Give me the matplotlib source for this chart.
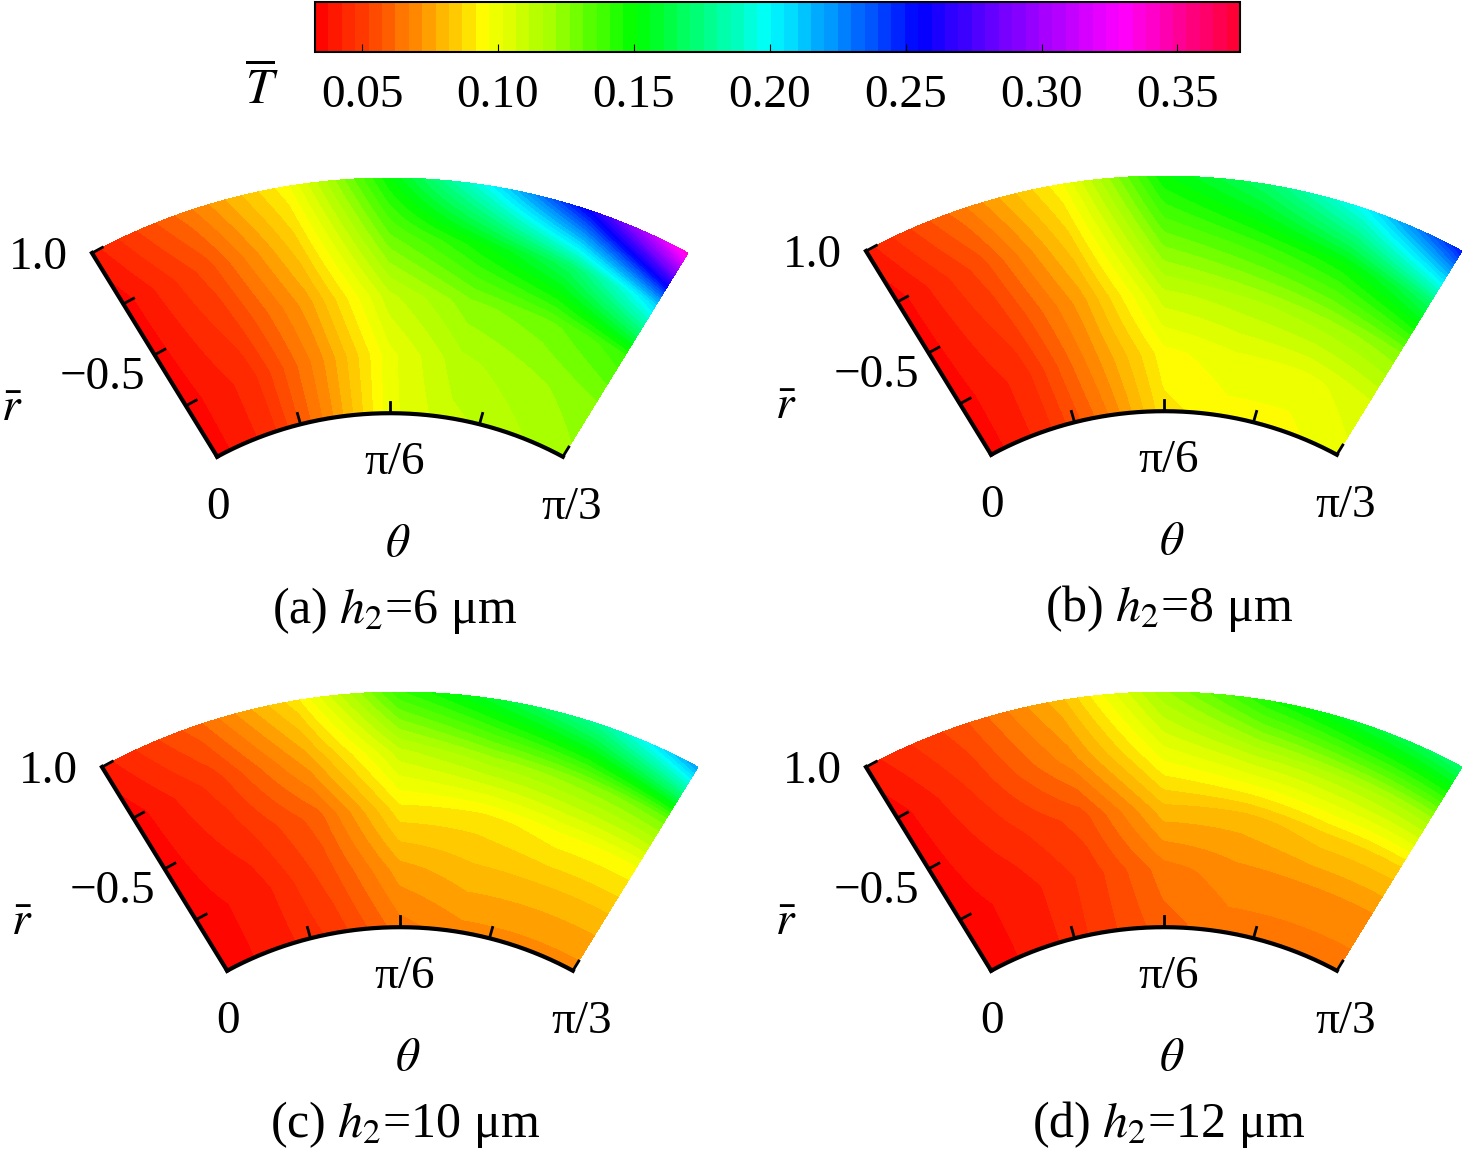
import numpy as np
import matplotlib
matplotlib.use("Agg")
import matplotlib.pyplot as plt
from matplotlib.colors import LinearSegmentedColormap, Normalize

plt.rcParams['font.family'] = ['Liberation Serif', 'DejaVu Serif']
plt.rcParams['mathtext.fontset'] = 'stix'

# data: normalized radius (inner->outer) x angle fraction (0 -> pi/3)
r_frac = [0.0, 0.25, 0.5, 0.75, 1.0]
phi_frac = [0, 1/6, 2/6, 3/6, 4/6, 5/6, 1]
T_a = [[0.035,0.045,0.07,0.10,0.11,0.115,0.12],
       [0.035,0.045,0.07,0.10,0.115,0.12,0.125],
       [0.035,0.05,0.075,0.11,0.125,0.13,0.14],
       [0.035,0.055,0.085,0.13,0.15,0.17,0.21],
       [0.04,0.065,0.095,0.15,0.20,0.26,0.34]]
T_b = [[0.035,0.045,0.065,0.09,0.095,0.095,0.10],
       [0.035,0.045,0.07,0.095,0.10,0.10,0.105],
       [0.035,0.05,0.075,0.11,0.115,0.12,0.125],
       [0.035,0.055,0.085,0.13,0.14,0.15,0.17],
       [0.04,0.065,0.095,0.15,0.17,0.20,0.25]]
T_c = [[0.035,0.04,0.05,0.065,0.07,0.07,0.07],
       [0.035,0.04,0.055,0.075,0.08,0.08,0.08],
       [0.035,0.045,0.06,0.09,0.09,0.095,0.095],
       [0.035,0.05,0.075,0.11,0.12,0.125,0.13],
       [0.04,0.06,0.09,0.14,0.16,0.18,0.22]]
T_d = [[0.035,0.04,0.05,0.06,0.065,0.065,0.065],
       [0.035,0.04,0.05,0.065,0.07,0.07,0.07],
       [0.035,0.045,0.055,0.08,0.08,0.085,0.085],
       [0.035,0.05,0.07,0.10,0.11,0.115,0.12],
       [0.04,0.055,0.08,0.12,0.145,0.16,0.17]]
fields = [T_a, T_b, T_c, T_d]
captions = ['(a) $\\it{h}_2$=6 μm', '(b) $\\it{h}_2$=8 μm',
            '(c) $\\it{h}_2$=10 μm', '(d) $\\it{h}_2$=12 μm']
cbar_ticks = [0.05, 0.10, 0.15, 0.20, 0.25, 0.30, 0.35]
vmin, vmax = 0.0327, 0.373

cmap = LinearSegmentedColormap.from_list('rb', [
    (0.0, '#ff0000'), (0.08, '#ff6000'), (0.183, '#ffff00'), (0.257, '#a0ff00'),
    (0.345, '#00ff00'), (0.492, '#00ffff'), (0.654, '#0000ff'), (0.756, '#8000ff'),
    (0.874, '#ff00ff'), (1.0, '#ff0030')])
norm = Normalize(vmin, vmax)
levels = np.linspace(vmin, vmax, 70)

W, H = 1476, 1169
fig = plt.figure(figsize=(W/100, H/100), dpi=100)
rin = 0.58
sx, sy = 596, 560

def interp_field(T, nr=80, nphi=160):
    T = np.array(T)
    rf = np.linspace(0, 1, nr)
    pf = np.linspace(0, 1, nphi)
    tmp = np.array([np.interp(pf, phi_frac, row) for row in T])
    out = np.array([np.interp(rf, r_frac, tmp[:, j]) for j in range(nphi)]).T
    return rf, pf, out

centers = [(390, 178), (1164, 176), (400, 692), (1164, 692)]
for k, (cx, ty) in enumerate(centers):
    x0, x1, y0, y1 = -0.62, 0.62, 0.40, 1.05
    left = cx + x0*sx
    top = ty - (y1-1.0)*sy
    ax = fig.add_axes([left/W, 1-(top+(y1-y0)*sy)/H, (x1-x0)*sx/W, (y1-y0)*sy/H])
    ax.set_xlim(x0, x1); ax.set_ylim(y0, y1); ax.axis('off')
    rf, pf, Z = interp_field(fields[k])
    R = rin + (1-rin)*rf[:, None]
    P = pf[None, :]*np.pi/3 - np.pi/6
    X = R*np.sin(P); Y = R*np.cos(P)
    ax.contourf(X, Y, Z, levels=levels, cmap=cmap, norm=norm)
    ax.plot([rin*np.sin(-np.pi/6), np.sin(-np.pi/6)], [rin*np.cos(np.pi/6), np.cos(np.pi/6)], 'k', lw=3)
    for rt in np.linspace(rin, 1, 5)[1:]:
        px, py = rt*np.sin(-np.pi/6), rt*np.cos(np.pi/6)
        d = 0.02
        ax.plot([px, px+d*np.cos(np.pi/6)], [py, py+d*np.sin(np.pi/6)], 'k', lw=2)
    th = np.linspace(-np.pi/6, np.pi/6, 200)
    ax.plot(rin*np.sin(th), rin*np.cos(th), 'k', lw=3)
    for t in np.linspace(-np.pi/6, np.pi/6, 5):
        ax.plot([rin*np.sin(t), (rin+0.02)*np.sin(t)], [rin*np.cos(t), (rin+0.02)*np.cos(t)], 'k', lw=2)
    fs = 34
    def ft(px, py, s, size=fs):
        fig.text(px/W, 1-py/H, s, fontsize=size, ha='center', va='center')
    ft(cx-352, ty+80, '1.0')
    ft(cx-288, ty+200, '−0.5')
    ft(cx-378, ty+232, r'$\bar{r}$')
    ft(cx-172, ty+330, '0')
    ft(cx+5, ty+285, 'π/6')
    ft(cx+182, ty+330, 'π/3')
    ft(cx+8, ty+367, r'$\theta$')
    ft(cx+5, ty+432, captions[k], 36)

cax = fig.add_axes([315/W, 1-52/H, 925/W, 50/H])
sm = matplotlib.cm.ScalarMappable(norm=norm, cmap=cmap)
cb = fig.colorbar(sm, cax=cax, orientation='horizontal', ticks=cbar_ticks,
                  boundaries=levels)
cb.ax.tick_params(direction='in', length=6, labelsize=34, pad=16, color='k')
cb.ax.set_xticklabels(['%.2f' % t for t in cbar_ticks])
cb.outline.set_linewidth(1.5)
fig.text(262/W, 1-90/H, r'$\overline{T}$', fontsize=36, ha='center', va='center')
fig.savefig('out.png', dpi=100)
